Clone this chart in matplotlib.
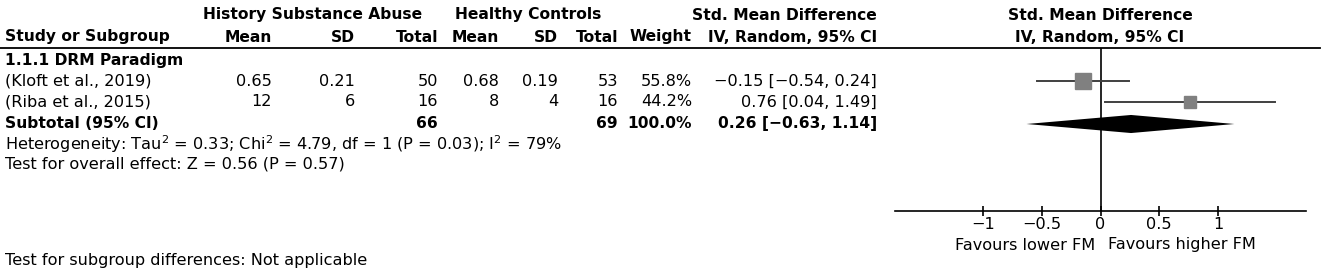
import numpy as np
import matplotlib
matplotlib.use("Agg")
import matplotlib.pyplot as plt
from matplotlib.lines import Line2D

plt.rcParams['font.family'] = 'DejaVu Sans'
plt.rcParams['mathtext.fontset'] = 'dejavusans'

# data
studies = ["(Kloft et al., 2019)", "(Riba et al., 2015)"]
hsa_mean = ["0.65", "12"]
hsa_sd = ["0.21", "6"]
hsa_n = [50, 16]
hc_mean = ["0.68", "8"]
hc_sd = ["0.19", "4"]
hc_n = [53, 16]
weights = [55.8, 44.2]
smd = [-0.15, 0.76]
ci_low = [-0.54, 0.04]
ci_high = [0.24, 1.49]
sub_smd, sub_low, sub_high = 0.26, -0.63, 1.14
ticks = [-1, -0.5, 0, 0.5, 1]

W, H = 1325, 271
fig = plt.figure(figsize=(W / 100, H / 100), dpi=100)
FS = 11.6
FSB = 11.2


def txt(x, y, s, ha='left', bold=False):
    fig.text(x / W, 1 - y / H, s, ha=ha, va='center',
             fontsize=FSB if bold else FS,
             fontweight='bold' if bold else 'normal')


# header
txt(313, 15, "History Substance Abuse", 'center', True)
txt(528, 15, "Healthy Controls", 'center', True)
txt(784, 15, "Std. Mean Difference", 'center', True)
txt(1100, 15, "Std. Mean Difference", 'center', True)
txt(5, 37, "Study or Subgroup", bold=True)
cols = [272, 355, 438, 499, 558, 618, 692, 877]
for x, s in zip(cols, ["Mean", "SD", "Total", "Mean", "SD", "Total", "Weight",
                       "IV, Random, 95% CI"]):
    txt(x, 37, s, 'right', True)
txt(1100, 37, "IV, Random, 95% CI", 'center', True)
fig.add_artist(Line2D([0, 1320 / W], [1 - 48 / H] * 2, color='black', lw=1.3))

rows_y = [81, 102]
txt(5, 60, "1.1.1 DRM Paradigm", bold=True)
for i, y in enumerate(rows_y):
    vals = [hsa_mean[i], hsa_sd[i], str(hsa_n[i]), hc_mean[i], hc_sd[i],
            str(hc_n[i]), f"{weights[i]:.1f}%",
            f"{smd[i]:.2f} [{ci_low[i]:.2f}, {ci_high[i]:.2f}]".replace('-', '\u2212')]
    txt(5, y, studies[i])
    for x, s in zip(cols, vals):
        txt(x, y, s, 'right')

txt(5, 123, "Subtotal (95% CI)", bold=True)
txt(438, 123, str(sum(hsa_n)), 'right', True)
txt(618, 123, str(sum(hc_n)), 'right', True)
txt(692, 123, f"{sum(weights):.1f}%", 'right', True)
txt(877, 123, f"{sub_smd:.2f} [{sub_low:.2f}, {sub_high:.2f}]".replace('-', '\u2212'), 'right', True)
txt(5, 144, r"Heterogeneity: Tau$^2$ = 0.33; Chi$^2$ = 4.79, df = 1 (P = 0.03); I$^2$ = 79%")
txt(5, 164, "Test for overall effect: Z = 0.56 (P = 0.57)")
txt(5, 260, "Test for subgroup differences: Not applicable")

# forest panel
x0, x1 = 895, 1306
ytop, ybot = 48, 211
ax = fig.add_axes([x0 / W, 1 - ybot / H, (x1 - x0) / W, (ybot - ytop) / H])
ax.set_xlim(-1.75, 1.75)
ax.set_ylim((ybot - 60) / 21, (ytop - 60) / 21)
ax.patch.set_visible(False)
for s in ['top', 'left', 'right']:
    ax.spines[s].set_visible(False)
ax.spines['bottom'].set_linewidth(1.2)
ax.set_yticks([])
ax.set_xticks(ticks)
ax.set_xticklabels(["\u22121", "\u22120.5", "0", "0.5", "1"], fontsize=FS)
ax.tick_params(axis='x', direction='inout', length=7, width=1.2, pad=1)
ax.axvline(0, color='black', lw=1.2)

for i in range(len(smd)):
    r = (rows_y[i] - 60) / 21
    ax.plot([ci_low[i], ci_high[i]], [r, r], color='#404040', lw=1.4)
    ax.plot(smd[i], r, 's', color='#808080', ms=11.5 * weights[i] / max(weights),
            mec='#808080')
rs = (124 - 60) / 21
ax.fill([sub_low, sub_smd, sub_high, sub_smd], [rs, rs - 0.43, rs, rs + 0.43],
        color='black', lw=0)

txt(1095, 245, "Favours lower FM", 'right')
txt(1108, 245, "Favours higher FM", 'left')

fig.savefig("out.png", dpi=100)
